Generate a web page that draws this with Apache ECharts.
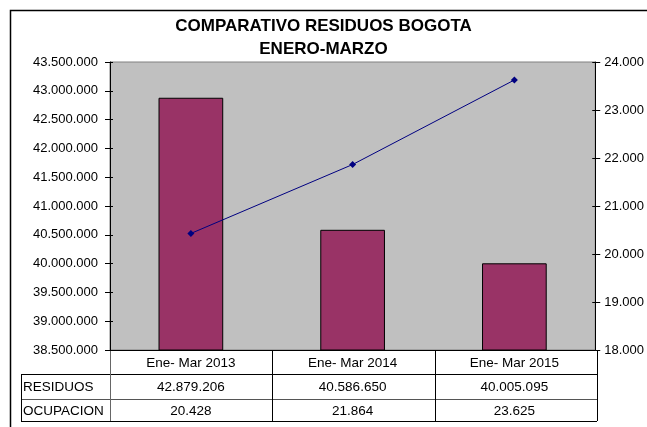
<!DOCTYPE html>
<html>
<head>
<meta charset="utf-8">
<script src="https://cdn.jsdelivr.net/npm/echarts@6/dist/echarts.min.js"></script>
<style>
  html, body { margin: 0; padding: 0; background: #fff; }
  #main { width: 647px; height: 427px; }
</style>
</head>
<body>
<div id="main"></div>
<script>
// data
const categories = ['Ene- Mar 2013', 'Ene- Mar 2014', 'Ene- Mar 2015'];
const residuos = [42879206, 40586650, 40005095];
const ocupacion = [20428, 21864, 23625];
const rowNames = ['RESIDUOS', 'OCUPACION'];

function miles(v) {
  return String(Math.round(v)).replace(/\B(?=(\d{3})+(?!\d))/g, '.');
}

const FONT = 'Liberation Sans, Arial, sans-serif';
const GL = 110, GR = 50, GT = 62, GB = 77;   // grid margins

const chart = echarts.init(document.getElementById('main'), null, { renderer: 'canvas' });

const leftScale = { min: 38500000, max: 43500000, interval: 500000 };
const rightScale = { min: 18000, max: 24000, interval: 1000 };

// second copy of each value axis only draws the inner half of the ticks
function tickAxis(scale, pos) {
  return Object.assign({
    type: 'value', position: pos,
    axisLine: { show: false },
    axisTick: { show: true, inside: true, length: 3, lineStyle: { color: '#000' } },
    axisLabel: { show: false },
    splitLine: { show: false }
  }, scale);
}

const option = {
  animation: false,
  backgroundColor: '#fff',
  title: {
    text: 'COMPARATIVO RESIDUOS BOGOTA\nENERO-MARZO',
    left: 'center',
    top: 10,
    textStyle: { fontFamily: FONT, fontSize: 17, fontWeight: 'bold', color: '#000', lineHeight: 23 }
  },
  grid: {
    left: GL, right: GR, top: GT, bottom: GB,
    show: true, backgroundColor: '#c0c0c0', borderColor: '#808080', borderWidth: 1
  },
  xAxis: {
    type: 'category',
    data: categories,
    axisLine: { lineStyle: { color: '#000' } },
    axisTick: { show: false },
    axisLabel: { show: false }
  },
  yAxis: [
    Object.assign({
      type: 'value', position: 'left',
      axisLine: { show: true, lineStyle: { color: '#000' } },
      axisTick: { show: true, length: 5, lineStyle: { color: '#000' } },
      splitLine: { show: false },
      axisLabel: { fontFamily: FONT, fontSize: 13, color: '#000', margin: 12, formatter: miles }
    }, leftScale),
    Object.assign({
      type: 'value', position: 'right',
      axisLine: { show: true, lineStyle: { color: '#000' } },
      axisTick: { show: true, length: 5, lineStyle: { color: '#000' } },
      splitLine: { show: false },
      axisLabel: { fontFamily: FONT, fontSize: 13, color: '#000', margin: 9, formatter: miles }
    }, rightScale),
    tickAxis(leftScale, 'left'),
    tickAxis(rightScale, 'right')
  ],
  series: [
    {
      name: 'RESIDUOS',
      type: 'bar',
      data: residuos,
      barWidth: '40%',
      itemStyle: { color: '#993366', borderColor: '#000', borderWidth: 1 }
    },
    {
      name: 'OCUPACION',
      type: 'line',
      yAxisIndex: 1,
      data: ocupacion,
      symbol: 'diamond',
      symbolSize: 7,
      lineStyle: { color: '#000080', width: 1 },
      itemStyle: { color: '#000080' }
    }
  ]
};

chart.setOption(option);

// data table under the plot
function drawTable() {
  const W = 647, H = 427;
  const x0 = GL, x1 = W - GR, yAxisPx = H - GB;
  const colW = (x1 - x0) / categories.length;
  const rowY = [yAxisPx, 374, 399, 421];
  const leftX = 21;
  const els = [];
  const line = (ax, ay, bx, by, c) => els.push({
    type: 'line', silent: true,
    shape: { x1: ax, y1: ay, x2: bx, y2: by },
    style: { stroke: c || '#000', lineWidth: 1 }
  });
  // outer frame
  els.push({ type: 'rect', silent: true, shape: { x: 10.5, y: 10.5, width: 700, height: 500 },
    style: { fill: null, stroke: '#000', lineWidth: 1.5 } });
  // horizontal lines
  line(x0, rowY[1] + 0.5, x1, rowY[1] + 0.5);
  line(leftX, rowY[1] + 0.5, x0, rowY[1] + 0.5);
  line(leftX, rowY[2] + 0.5, x1, rowY[2] + 0.5, '#555');
  line(leftX, rowY[3] + 0.5, x1, rowY[3] + 0.5);
  // vertical lines
  line(leftX + 0.5, rowY[1], leftX + 0.5, rowY[3]);
  for (let i = 0; i <= categories.length; i++) {
    const x = Math.round(x0 + i * colW) + 0.5;
    line(x, rowY[0], x, rowY[3], i === 0 ? '#666' : '#000');
  }
  const rows = [categories, residuos.map(miles), ocupacion.map(miles)];
  rows.forEach((r, ri) => {
    const cy = (rowY[ri] + rowY[ri + 1]) / 2 + 1;
    r.forEach((t, ci) => {
      const cx = chart.convertToPixel({ xAxisIndex: 0 }, ci);
      els.push({ type: 'text', silent: true, x: cx, y: cy,
        style: { text: t, fontFamily: FONT, fontSize: 13.5, fill: '#000', align: 'center', verticalAlign: 'middle' } });
    });
    if (ri > 0) {
      els.push({ type: 'text', silent: true, x: leftX + 2, y: cy,
        style: { text: rowNames[ri - 1], fontFamily: FONT, fontSize: 13.5, fill: '#000', align: 'left', verticalAlign: 'middle' } });
    }
  });
  chart.setOption({ graphic: els });
}
drawTable();
</script>
</body>
</html>
